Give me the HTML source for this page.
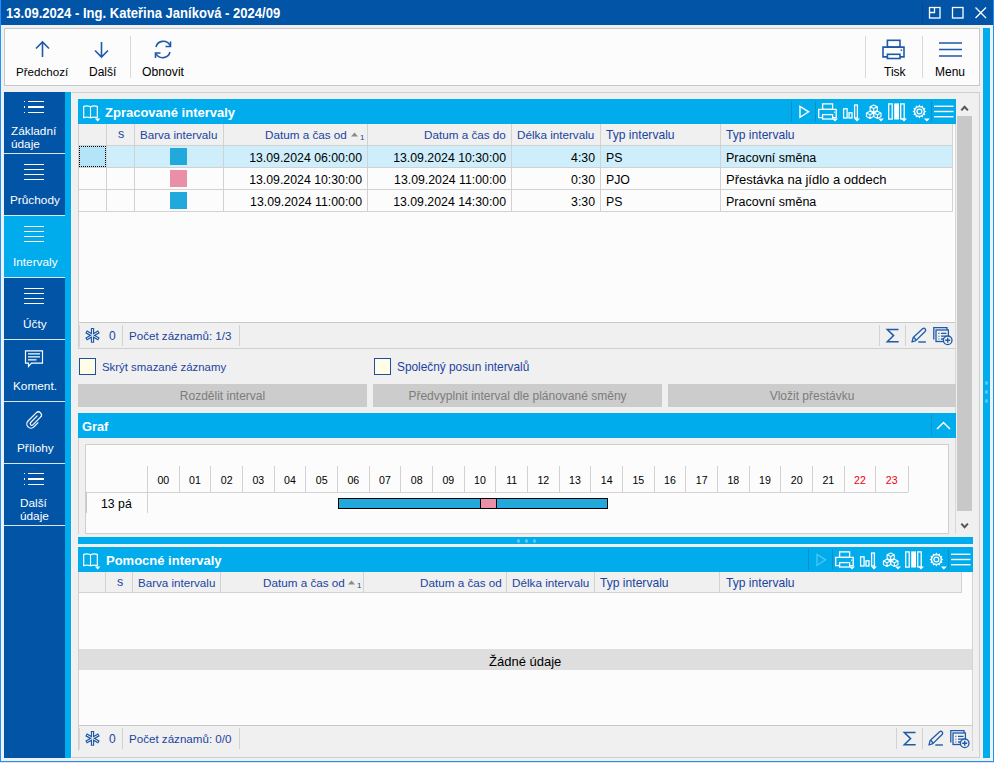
<!DOCTYPE html>
<html><head><meta charset="utf-8">
<style>
*{margin:0;padding:0;box-sizing:border-box}
html,body{width:994px;height:763px;overflow:hidden;background:#f0f0f0;font-family:"Liberation Sans",sans-serif;font-size:12px;color:#000}
.a{position:absolute}
.t{position:absolute;white-space:nowrap;line-height:14px}
.cy{background:#00acec}
.db{background:#0254a6}
.hl{position:absolute;height:1px;background:#d2d2d2}
.vl{position:absolute;width:1px;background:#d2d2d2}
.hd{color:#1a44a0}
.nav .t{color:#fff}
svg{position:absolute;overflow:visible}
</style></head><body>
<div class="a" style="left:0;top:0;width:1px;height:763px;background:#1e90ff"></div>
<div class="a" style="left:993px;top:0;width:1px;height:763px;background:#1e90ff"></div>
<div class="a" style="left:0;top:761px;width:994px;height:1px;background:#1e90ff"></div>
<div class="a" style="left:0;top:762px;width:994px;height:1px;background:#e6e2de"></div>
<div class="a db" style="left:1px;top:0;width:992px;height:25px"></div>
<div class="t" style="left:6px;top:6px;font-weight:bold;font-size:14px;color:#fff;transform-origin:0 0;transform:scaleX(0.932)">13.09.2024 - Ing. Kateřina Janíková - 2024/09</div>
<div class="a" style="left:922px;top:2px;width:1px;height:21px;background:#0a4590"></div>
<svg style="left:0;top:0" width="994" height="25">
 <g fill="none" stroke="#fff" stroke-width="1.3">
  <rect x="929.5" y="7.5" width="10.5" height="10.5"/>
  <path d="M929.5 12.5H934.5V7.5"/>
  <rect x="952.5" y="7.5" width="10.5" height="10.5"/>
  <path d="M975.5 7.5L986 18M986 7.5L975.5 18"/>
 </g>
</svg>
<div class="a" style="left:4px;top:28px;width:976px;height:58px;background:#fcfcfc;border:1px solid #c8c8c8"></div>
<div class="a" style="left:130px;top:36px;width:1px;height:42px;background:#d8d8d8"></div>
<div class="a" style="left:865px;top:36px;width:1px;height:42px;background:#d8d8d8"></div>
<div class="a" style="left:922px;top:36px;width:1px;height:42px;background:#d8d8d8"></div>
<svg style="left:0;top:0" width="994" height="90">
 <g fill="none" stroke="#1e5aa8" stroke-width="1.6">
  <path d="M42.5 42V57M36 48.5L42.5 42L49 48.5"/>
  <path d="M101.5 42V57M95 50.5L101.5 57L108 50.5"/>
  <path d="M170 45.5A7.5 7.5 0 0 0 156 47M156 53.5A7.5 7.5 0 0 0 170 52"/>
  <path d="M170.5 41.5V46.5H165.5M155.5 58V53H160.5"/>
  <rect x="887.4" y="40.3" width="12.6" height="6.8"/>
  <path d="M887.4 56.9H883V47.1H904V56.9H900"/>
  <rect x="887.4" y="54.3" width="12.6" height="4.2"/>
  <path d="M939 43H962M939 49.5H962M939 56H962"/>
 </g>
 <rect x="900.6" y="49.4" width="1.5" height="1.5" fill="#1e5aa8"/>
</svg>
<div class="t" style="left:16px;top:65px;font-size:11.6px">Předchozí</div>
<div class="t" style="left:89px;top:65px;font-size:12px">Další</div>
<div class="t" style="left:142px;top:65px;font-size:12.2px">Obnovit</div>
<div class="t" style="left:884px;top:65px;font-size:12px">Tisk</div>
<div class="t" style="left:935px;top:65px;font-size:12px">Menu</div>
<div class="a cy" style="left:983px;top:28px;width:7px;height:730px"></div>
<div class="a" style="left:985.1px;top:380.8px;width:3.4px;height:3.9px;border-radius:50%;background:#52c9fb"></div>
<div class="a" style="left:985.1px;top:389.8px;width:3.4px;height:3.9px;border-radius:50%;background:#52c9fb"></div>
<div class="a" style="left:985.1px;top:398.8px;width:3.4px;height:3.9px;border-radius:50%;background:#52c9fb"></div>
<div class="nav">
<div class="a db" style="left:4px;top:92px;width:61px;height:666px"></div>
<div class="a cy" style="left:4px;top:216px;width:67px;height:61px"></div>
<div class="a cy" style="left:65px;top:92px;width:6px;height:666px"></div>
<div class="a" style="left:4px;top:153px;width:61px;height:1px;background:#dbe6f2"></div>
<div class="a" style="left:4px;top:215px;width:61px;height:1px;background:#dbe6f2"></div>
<div class="a" style="left:4px;top:277px;width:61px;height:1px;background:#dbe6f2"></div>
<div class="a" style="left:4px;top:339px;width:61px;height:1px;background:#dbe6f2"></div>
<div class="a" style="left:4px;top:401px;width:61px;height:1px;background:#dbe6f2"></div>
<div class="a" style="left:4px;top:463px;width:61px;height:1px;background:#dbe6f2"></div>
<div class="a" style="left:4px;top:525px;width:61px;height:1px;background:#dbe6f2"></div>
<div class="a" style="left:24px;top:100.75px;width:1.4px;height:1.3px;background:#fff"></div>
<div class="a" style="left:28px;top:100.75px;width:16px;height:1.3px;background:#fff"></div>
<div class="a" style="left:24px;top:106.45px;width:1.4px;height:1.3px;background:#fff"></div>
<div class="a" style="left:28px;top:106.45px;width:16px;height:1.3px;background:#fff"></div>
<div class="a" style="left:24px;top:111.85px;width:1.4px;height:1.3px;background:#fff"></div>
<div class="a" style="left:28px;top:111.85px;width:16px;height:1.3px;background:#fff"></div>
<div class="t" style="left:11px;top:125px;font-size:11.8px;line-height:13.4px">Základní<br>údaje</div>
<div class="a" style="left:24px;top:163.95px;width:20px;height:1.3px;background:#fff"></div>
<div class="a" style="left:24px;top:168.95px;width:20px;height:1.3px;background:#fff"></div>
<div class="a" style="left:24px;top:173.95px;width:20px;height:1.3px;background:#fff"></div>
<div class="a" style="left:24px;top:178.95px;width:20px;height:1.3px;background:#fff"></div>
<div class="t" style="left:10px;top:193px;font-size:11.8px">Průchody</div>
<div class="a" style="left:24px;top:225.95px;width:20px;height:1.3px;background:#fff"></div>
<div class="a" style="left:24px;top:230.95px;width:20px;height:1.3px;background:#fff"></div>
<div class="a" style="left:24px;top:235.95px;width:20px;height:1.3px;background:#fff"></div>
<div class="a" style="left:24px;top:240.95px;width:20px;height:1.3px;background:#fff"></div>
<div class="t" style="left:13px;top:255px;font-size:11.8px">Intervaly</div>
<div class="a" style="left:24px;top:287.95px;width:20px;height:1.3px;background:#fff"></div>
<div class="a" style="left:24px;top:292.95px;width:20px;height:1.3px;background:#fff"></div>
<div class="a" style="left:24px;top:297.95px;width:20px;height:1.3px;background:#fff"></div>
<div class="a" style="left:24px;top:302.95px;width:20px;height:1.3px;background:#fff"></div>
<div class="t" style="left:23px;top:317px;font-size:11.8px">Účty</div>
<svg style="left:0;top:0" width="70" height="500"><g fill="none" stroke="#fff" stroke-width="1.2">
<path d="M25.5 350.8H42.5V363.2H31.5L28.5 366.5V363.2H25.5Z"/>
<path d="M28 353.8H40M28 356.9H40M28 359.9H36.5"/>
</g>
<g fill="none" stroke="#fff" stroke-width="1.3" transform="translate(35.07 419.8) rotate(45) scale(0.92)">
<path d="M-1.3 -5L-1.3 5.5A1.75 1.75 0 0 0 2.2 5.5L2.2 -6.2A3.35 3.35 0 0 0 -4.5 -6.2L-4.5 6.3A4.5 4.5 0 0 0 4.5 6.3L4.5 -0.5"/>
</g></svg>
<div class="t" style="left:13px;top:379px;font-size:11.8px">Koment.</div>
<div class="t" style="left:17px;top:441px;font-size:11.8px">Přílohy</div>
<div class="a" style="left:24px;top:472.75px;width:1.4px;height:1.3px;background:#fff"></div>
<div class="a" style="left:28px;top:472.75px;width:16px;height:1.3px;background:#fff"></div>
<div class="a" style="left:24px;top:478.45px;width:1.4px;height:1.3px;background:#fff"></div>
<div class="a" style="left:28px;top:478.45px;width:16px;height:1.3px;background:#fff"></div>
<div class="a" style="left:24px;top:483.85px;width:1.4px;height:1.3px;background:#fff"></div>
<div class="a" style="left:28px;top:483.85px;width:16px;height:1.3px;background:#fff"></div>
<div class="t" style="left:20px;top:497px;font-size:11.8px;line-height:13.4px">Další<br>údaje</div>
</div>
<div class="a" style="left:71px;top:92px;width:909px;height:666px;border:1px solid #cfcfcf;border-left-color:#f8f8f8"></div>
<div class="a cy" style="left:78px;top:99px;width:878px;height:25px"></div>
<div class="t" style="left:105px;top:105.5px;font-weight:bold;font-size:13px;color:#fff">Zpracované intervaly</div>
<div class="a" style="left:78px;top:124px;width:878px;height:225px;background:#fcfcfc"></div>
<div class="a" style="left:78px;top:124px;width:875px;height:22px;background:#f0f0f0"></div>
<div class="hl" style="left:78px;top:145px;width:875px"></div>
<div class="a" style="left:79px;top:146px;width:874px;height:21px;background:#cdeefa"></div>
<div class="a" style="left:79px;top:146px;width:27px;height:21px;background:#b3e4f8;border:1px dotted #000"></div>
<div class="hl" style="left:78px;top:167px;width:875px"></div>
<div class="hl" style="left:78px;top:189px;width:875px"></div>
<div class="hl" style="left:78px;top:211px;width:875px"></div>
<div class="vl" style="left:106px;top:124px;height:88px"></div>
<div class="vl" style="left:134px;top:124px;height:88px"></div>
<div class="vl" style="left:223px;top:124px;height:88px"></div>
<div class="vl" style="left:367px;top:124px;height:88px"></div>
<div class="vl" style="left:511px;top:124px;height:88px"></div>
<div class="vl" style="left:600px;top:124px;height:88px"></div>
<div class="vl" style="left:720px;top:124px;height:88px"></div>
<div class="vl" style="left:952px;top:124px;height:88px"></div>
<div class="t hd" style="left:118px;top:126.5px;font-size:12.5px">s</div>
<div class="t hd" style="left:140px;top:127.5px;font-size:11.6px">Barva intervalu</div>
<div class="t hd" style="left:265px;top:127.5px;font-size:11.7px">Datum a čas od</div>
<svg style="left:0;top:0" width="994" height="200"><path d="M351 136.5L354.5 132.5L358 136.5Z" fill="#8a8a8a"/></svg>
<div class="t hd" style="left:360px;top:130.5px;font-size:8px">1</div>
<div class="t hd" style="left:424px;top:127.5px;font-size:11.7px">Datum a čas do</div>
<div class="t hd" style="left:517px;top:127.5px;font-size:11.7px">Délka intervalu</div>
<div class="t hd" style="left:606px;top:127.5px;font-size:12.1px">Typ intervalu</div>
<div class="t hd" style="left:726px;top:127.5px;font-size:12.1px">Typ intervalu</div>
<div class="a" style="left:170px;top:148px;width:17px;height:17px;background:#22a9dc"></div>
<div class="t" style="right:632px;top:150.5px;font-size:12.3px">13.09.2024 06:00:00</div>
<div class="t" style="right:488px;top:150.5px;font-size:12.3px">13.09.2024 10:30:00</div>
<div class="t" style="right:399px;top:150.5px;font-size:12.3px">4:30</div>
<div class="t" style="left:606px;top:150.5px;font-size:12.3px">PS</div>
<div class="t" style="left:726px;top:150.5px;font-size:12.5px">Pracovní směna</div>
<div class="a" style="left:170px;top:170px;width:17px;height:17px;background:#e98fa8"></div>
<div class="t" style="right:632px;top:172.5px;font-size:12.3px">13.09.2024 10:30:00</div>
<div class="t" style="right:488px;top:172.5px;font-size:12.3px">13.09.2024 11:00:00</div>
<div class="t" style="right:399px;top:172.5px;font-size:12.3px">0:30</div>
<div class="t" style="left:606px;top:172.5px;font-size:12.3px">PJO</div>
<div class="t" style="left:726px;top:172.5px;font-size:13px">Přestávka na jídlo a oddech</div>
<div class="a" style="left:170px;top:192px;width:17px;height:17px;background:#22a9dc"></div>
<div class="t" style="right:632px;top:194.5px;font-size:12.3px">13.09.2024 11:00:00</div>
<div class="t" style="right:488px;top:194.5px;font-size:12.3px">13.09.2024 14:30:00</div>
<div class="t" style="right:399px;top:194.5px;font-size:12.3px">3:30</div>
<div class="t" style="left:606px;top:194.5px;font-size:12.3px">PS</div>
<div class="t" style="left:726px;top:194.5px;font-size:12.5px">Pracovní směna</div>
<div class="a" style="left:78px;top:322px;width:878px;height:27px;background:#f0f0f0;border-top:1px solid #c8c8c8;border-bottom:1px solid #d0d0d0"></div>
<div class="vl" style="left:79px;top:325px;height:22px;background:#d6d6d6"></div>
<div class="vl" style="left:122px;top:325px;height:21px"></div>
<div class="vl" style="left:239px;top:325px;height:21px"></div>
<div class="vl" style="left:879px;top:325px;height:21px"></div>
<div class="vl" style="left:905px;top:325px;height:21px"></div>
<div class="t hd" style="left:109px;top:329px;font-size:12px">0</div>
<div class="t hd" style="left:129px;top:329px;font-size:11.6px">Počet záznamů: 1/3</div>
<div class="vl" style="left:955px;top:124px;height:410px;background:#d8d8d8"></div>
<div class="a" style="left:957px;top:116px;width:15px;height:395px;background:#c8c8c8"></div>
<svg style="left:0;top:0" width="994" height="600"><g fill="none" stroke="#555" stroke-width="2"><path d="M961.3 110.4L964.6 106.8L967.9 110.4"/><path d="M961.3 523.6L964.6 527.2L967.9 523.6"/></g></svg>
<div class="a" style="left:79px;top:358px;width:17px;height:17px;border:1px solid #1f4e9c;background:#fffde6"></div>
<div class="t hd" style="left:102px;top:360px;font-size:11.4px">Skrýt smazané záznamy</div>
<div class="a" style="left:374px;top:358px;width:17px;height:17px;border:1px solid #1f4e9c;background:#fffde6"></div>
<div class="t hd" style="left:397px;top:360px;font-size:11.85px">Společný posun intervalů</div>
<div class="a" style="left:78px;top:384px;width:289px;height:23px;background:#cccccc;color:#7c7c7c;font-size:12px;line-height:24px;text-align:center;white-space:nowrap">Rozdělit interval</div>
<div class="a" style="left:373px;top:384px;width:289px;height:23px;background:#cccccc;color:#7c7c7c;font-size:12px;line-height:24px;text-align:center;white-space:nowrap">Předvyplnit interval dle plánované směny</div>
<div class="a" style="left:668px;top:384px;width:288px;height:23px;background:#cccccc;color:#7c7c7c;font-size:12px;line-height:24px;text-align:center;white-space:nowrap">Vložit přestávku</div>
<div class="a cy" style="left:78px;top:413px;width:878px;height:25px"></div>
<div class="t" style="left:82px;top:419.5px;font-weight:bold;font-size:12.8px;color:#fff">Graf</div>
<div class="a" style="left:931px;top:415px;width:1px;height:21px;background:#0894cc"></div>
<svg style="left:0;top:0" width="994" height="600"><path d="M937 429L943.5 422.5L950 429" fill="none" stroke="#fff" stroke-width="1.5"/></svg>
<div class="a" style="left:85px;top:444px;width:864px;height:90px;background:#fcfcfc;border:1px solid #cfcfcf"></div>
<div class="hl" style="left:86px;top:492px;width:822px"></div>
<div class="vl" style="left:86px;top:492px;height:21px;background:#c8c8c8"></div>
<div class="vl" style="left:147px;top:466px;height:47px"></div>
<div class="vl" style="left:179px;top:466px;height:26px"></div>
<div class="t" style="left:151.3px;width:24px;text-align:center;top:472.5px;font-size:10.6px;color:#000">00</div>
<div class="vl" style="left:210px;top:466px;height:26px"></div>
<div class="t" style="left:183.0px;width:24px;text-align:center;top:472.5px;font-size:10.6px;color:#000">01</div>
<div class="vl" style="left:242px;top:466px;height:26px"></div>
<div class="t" style="left:214.7px;width:24px;text-align:center;top:472.5px;font-size:10.6px;color:#000">02</div>
<div class="vl" style="left:274px;top:466px;height:26px"></div>
<div class="t" style="left:246.3px;width:24px;text-align:center;top:472.5px;font-size:10.6px;color:#000">03</div>
<div class="vl" style="left:305px;top:466px;height:26px"></div>
<div class="t" style="left:278.0px;width:24px;text-align:center;top:472.5px;font-size:10.6px;color:#000">04</div>
<div class="vl" style="left:337px;top:466px;height:26px"></div>
<div class="t" style="left:309.7px;width:24px;text-align:center;top:472.5px;font-size:10.6px;color:#000">05</div>
<div class="vl" style="left:369px;top:466px;height:26px"></div>
<div class="t" style="left:341.3px;width:24px;text-align:center;top:472.5px;font-size:10.6px;color:#000">06</div>
<div class="vl" style="left:400px;top:466px;height:26px"></div>
<div class="t" style="left:373.0px;width:24px;text-align:center;top:472.5px;font-size:10.6px;color:#000">07</div>
<div class="vl" style="left:432px;top:466px;height:26px"></div>
<div class="t" style="left:404.7px;width:24px;text-align:center;top:472.5px;font-size:10.6px;color:#000">08</div>
<div class="vl" style="left:464px;top:466px;height:26px"></div>
<div class="t" style="left:436.3px;width:24px;text-align:center;top:472.5px;font-size:10.6px;color:#000">09</div>
<div class="vl" style="left:495px;top:466px;height:26px"></div>
<div class="t" style="left:468.0px;width:24px;text-align:center;top:472.5px;font-size:10.6px;color:#000">10</div>
<div class="vl" style="left:527px;top:466px;height:26px"></div>
<div class="t" style="left:499.7px;width:24px;text-align:center;top:472.5px;font-size:10.6px;color:#000">11</div>
<div class="vl" style="left:559px;top:466px;height:26px"></div>
<div class="t" style="left:531.3px;width:24px;text-align:center;top:472.5px;font-size:10.6px;color:#000">12</div>
<div class="vl" style="left:590px;top:466px;height:26px"></div>
<div class="t" style="left:563.0px;width:24px;text-align:center;top:472.5px;font-size:10.6px;color:#000">13</div>
<div class="vl" style="left:622px;top:466px;height:26px"></div>
<div class="t" style="left:594.7px;width:24px;text-align:center;top:472.5px;font-size:10.6px;color:#000">14</div>
<div class="vl" style="left:654px;top:466px;height:26px"></div>
<div class="t" style="left:626.3px;width:24px;text-align:center;top:472.5px;font-size:10.6px;color:#000">15</div>
<div class="vl" style="left:685px;top:466px;height:26px"></div>
<div class="t" style="left:658.0px;width:24px;text-align:center;top:472.5px;font-size:10.6px;color:#000">16</div>
<div class="vl" style="left:717px;top:466px;height:26px"></div>
<div class="t" style="left:689.7px;width:24px;text-align:center;top:472.5px;font-size:10.6px;color:#000">17</div>
<div class="vl" style="left:749px;top:466px;height:26px"></div>
<div class="t" style="left:721.3px;width:24px;text-align:center;top:472.5px;font-size:10.6px;color:#000">18</div>
<div class="vl" style="left:780px;top:466px;height:26px"></div>
<div class="t" style="left:753.0px;width:24px;text-align:center;top:472.5px;font-size:10.6px;color:#000">19</div>
<div class="vl" style="left:812px;top:466px;height:26px"></div>
<div class="t" style="left:784.7px;width:24px;text-align:center;top:472.5px;font-size:10.6px;color:#000">20</div>
<div class="vl" style="left:844px;top:466px;height:26px"></div>
<div class="t" style="left:816.3px;width:24px;text-align:center;top:472.5px;font-size:10.6px;color:#000">21</div>
<div class="vl" style="left:875px;top:466px;height:26px"></div>
<div class="t" style="left:848.0px;width:24px;text-align:center;top:472.5px;font-size:10.6px;color:#f00010">22</div>
<div class="vl" style="left:908px;top:466px;height:26px"></div>
<div class="t" style="left:879.7px;width:24px;text-align:center;top:472.5px;font-size:10.6px;color:#f00010">23</div>
<div class="t" style="left:101px;top:496.5px;font-size:12.3px">13 pá</div>
<div class="a" style="left:338px;top:498px;width:270px;height:11px;background:#22a9dc;border:1px solid #000"></div>
<div class="a" style="left:480px;top:498px;width:17px;height:11px;background:#e98fa8;border:1px solid #000"></div>
<div class="a cy" style="left:78px;top:537px;width:895px;height:7px"></div>
<div class="a" style="left:517.2px;top:539px;width:3.2px;height:3.8px;border-radius:50%;background:#52c9fb"></div>
<div class="a" style="left:525.2px;top:539px;width:3.2px;height:3.8px;border-radius:50%;background:#52c9fb"></div>
<div class="a" style="left:533.2px;top:539px;width:3.2px;height:3.8px;border-radius:50%;background:#52c9fb"></div>
<div class="a cy" style="left:78px;top:547px;width:895px;height:25px"></div>
<div class="t" style="left:106px;top:553.5px;font-weight:bold;font-size:13px;color:#fff">Pomocné intervaly</div>
<div class="a" style="left:79px;top:572px;width:893px;height:153px;background:#fcfcfc"></div>
<div class="a" style="left:79px;top:572px;width:883px;height:21px;background:#f0f0f0"></div>
<div class="hl" style="left:79px;top:592px;width:883px"></div>
<div class="vl" style="left:105px;top:572px;height:20px"></div>
<div class="vl" style="left:132px;top:572px;height:20px"></div>
<div class="vl" style="left:220px;top:572px;height:20px"></div>
<div class="vl" style="left:363px;top:572px;height:20px"></div>
<div class="vl" style="left:506px;top:572px;height:20px"></div>
<div class="vl" style="left:594px;top:572px;height:20px"></div>
<div class="vl" style="left:719px;top:572px;height:20px"></div>
<div class="vl" style="left:961px;top:572px;height:20px"></div>
<div class="vl" style="left:972px;top:572px;height:179px;background:#d4d4d4"></div>
<div class="t hd" style="left:117px;top:575px;font-size:12.5px">s</div>
<div class="t hd" style="left:138px;top:576px;font-size:11.6px">Barva intervalu</div>
<div class="t hd" style="left:263px;top:576px;font-size:11.7px">Datum a čas od</div>
<svg style="left:0;top:0" width="994" height="600"><path d="M348 584.5L351.5 580.5L355 584.5Z" fill="#8a8a8a"/></svg>
<div class="t hd" style="left:357px;top:579px;font-size:8px">1</div>
<div class="t hd" style="left:420px;top:576px;font-size:11.7px">Datum a čas od</div>
<div class="t hd" style="left:512px;top:576px;font-size:11.7px">Délka intervalu</div>
<div class="t hd" style="left:600px;top:576px;font-size:12.1px">Typ intervalu</div>
<div class="t hd" style="left:726px;top:576px;font-size:12.1px">Typ intervalu</div>
<div class="a" style="left:79px;top:649px;width:893px;height:21px;background:#dedede"></div>
<div class="t" style="left:489px;top:655px;font-size:13px">Žádné údaje</div>
<div class="a" style="left:78px;top:725px;width:895px;height:26px;background:#f0f0f0;border-top:1px solid #c8c8c8"></div>
<div class="vl" style="left:79px;top:728px;height:21px;background:#d6d6d6"></div>
<div class="vl" style="left:972px;top:726px;height:25px;background:#d4d4d4"></div>
<div class="vl" style="left:122px;top:728px;height:21px"></div>
<div class="vl" style="left:239px;top:728px;height:21px"></div>
<div class="vl" style="left:896px;top:728px;height:21px"></div>
<div class="vl" style="left:922px;top:728px;height:21px"></div>
<div class="t hd" style="left:109px;top:732px;font-size:12px">0</div>
<div class="t hd" style="left:129px;top:732px;font-size:11.6px">Počet záznamů: 0/0</div>
<div class="vl" style="left:78px;top:124px;height:224px;background:#cfcfcf"></div>
<div class="vl" style="left:78px;top:438px;height:96px;background:#cfcfcf"></div>
<div class="vl" style="left:78px;top:572px;height:179px;background:#cfcfcf"></div>
<svg style="left:0px;top:0px" width="994" height="130">
<g fill="#0a90c6"><rect x="791" y="101" width="1" height="21"/><rect x="815" y="101" width="1" height="21"/><rect x="931" y="101" width="1" height="21"/></g>
<path d="M800 106.3L808.6 111.8L800 117.3Z" fill="none" stroke="#fff" stroke-width="1.4" stroke-linejoin="miter"/>
<g fill="none" stroke="#fff" stroke-width="1.3">
<rect x="822.6" y="103.9" width="10" height="5.5"/>
<path d="M822.6 117.6H818.7V109.4H836.2V117.6H832.6"/>
<rect x="822.6" y="114.6" width="10" height="4.4"/>
<rect x="843.6" y="108.8" width="3.5" height="9.2"/><rect x="849" y="112.8" width="3" height="5.2"/><rect x="854.6" y="105" width="2.8" height="13"/>
<rect x="888.7" y="103.9" width="3.5" height="15.2"/><rect x="900.7" y="103.9" width="3.5" height="15"/>
</g>
<rect x="834" y="111.6" width="1.2" height="1.2" fill="#fff"/>
<rect x="894.2" y="103.4" width="4.8" height="16.1" fill="#fff"/>
<path d="M832 118.6H838L835 121.6Z" fill="#fff"/>
<path d="M854 118.6H860L857 121.6Z" fill="#fff"/>
<path d="M878 118.6H884L881 121.6Z" fill="#fff"/>
<path d="M901 118.6H907L904 121.6Z" fill="#fff"/>
<path d="M923.8 118.6H929.8L926.8 121.6Z" fill="#fff"/>
<g fill="none" stroke="#fff" stroke-width="1.1" stroke-linejoin="round">
<path d="M873.7 105.0L877.3000000000001 106.8V110.39999999999999L873.7 112.19999999999999L870.1 110.39999999999999V106.8ZM870.1 106.8L873.7 108.6L877.3000000000001 106.8M873.7 108.6V112.19999999999999"/>
<path d="M870 111.2L873.6 113.0V116.6L870 118.39999999999999L866.4 116.6V113.0ZM866.4 113.0L870 114.8L873.6 113.0M870 114.8V118.39999999999999"/>
<path d="M877.4 111.2L881.0 113.0V116.6L877.4 118.39999999999999L873.8 116.6V113.0ZM873.8 113.0L877.4 114.8L881.0 113.0M877.4 114.8V118.39999999999999"/>
</g>
<path d="M926.30 111.50L924.52 112.87L925.38 114.95L923.15 115.25L922.85 117.48L920.77 116.62L919.40 118.40L918.03 116.62L915.95 117.48L915.65 115.25L913.42 114.95L914.28 112.87L912.50 111.50L914.28 110.13L913.42 108.05L915.65 107.75L915.95 105.52L918.03 106.38L919.40 104.60L920.77 106.38L922.85 105.52L923.15 107.75L925.38 108.05L924.52 110.13Z" fill="#fff"/>
<circle cx="919.4" cy="111.5" r="4.2" fill="#00acec"/>
<circle cx="919.4" cy="111.5" r="2.4" fill="none" stroke="#fff" stroke-width="1.3"/>
<g fill="#fff"><rect x="934" y="105.6" width="19.5" height="1.4"/><rect x="934" y="110.8" width="19.5" height="1.4"/><rect x="934" y="116" width="19.5" height="1.4"/></g>
<g transform="translate(0 0)" fill="none" stroke="#fff" stroke-width="1.15">
<path d="M90.5 106.8Q87 105.2 83.7 106.4V117.6Q87 116.6 90.5 117.8Q94 116.6 97.3 117.6V106.4Q94 105.2 90.5 106.8V117.8"/>
</g>
<path transform="translate(0 0)" d="M95 118.6H100.4L97.7 121.6Z" fill="#fff"/>
</svg>
<svg style="left:17px;top:448px" width="994" height="130">
<g fill="#0a90c6"><rect x="791" y="101" width="1" height="21"/><rect x="815" y="101" width="1" height="21"/><rect x="931" y="101" width="1" height="21"/></g>
<path d="M800 106.3L808.6 111.8L800 117.3Z" fill="none" stroke="#4cc4ef" stroke-width="1.4" stroke-linejoin="miter"/>
<g fill="none" stroke="#fff" stroke-width="1.3">
<rect x="822.6" y="103.9" width="10" height="5.5"/>
<path d="M822.6 117.6H818.7V109.4H836.2V117.6H832.6"/>
<rect x="822.6" y="114.6" width="10" height="4.4"/>
<rect x="843.6" y="108.8" width="3.5" height="9.2"/><rect x="849" y="112.8" width="3" height="5.2"/><rect x="854.6" y="105" width="2.8" height="13"/>
<rect x="888.7" y="103.9" width="3.5" height="15.2"/><rect x="900.7" y="103.9" width="3.5" height="15"/>
</g>
<rect x="834" y="111.6" width="1.2" height="1.2" fill="#fff"/>
<rect x="894.2" y="103.4" width="4.8" height="16.1" fill="#fff"/>
<path d="M832 118.6H838L835 121.6Z" fill="#fff"/>
<path d="M854 118.6H860L857 121.6Z" fill="#fff"/>
<path d="M878 118.6H884L881 121.6Z" fill="#fff"/>
<path d="M901 118.6H907L904 121.6Z" fill="#fff"/>
<path d="M923.8 118.6H929.8L926.8 121.6Z" fill="#fff"/>
<g fill="none" stroke="#fff" stroke-width="1.1" stroke-linejoin="round">
<path d="M873.7 105.0L877.3000000000001 106.8V110.39999999999999L873.7 112.19999999999999L870.1 110.39999999999999V106.8ZM870.1 106.8L873.7 108.6L877.3000000000001 106.8M873.7 108.6V112.19999999999999"/>
<path d="M870 111.2L873.6 113.0V116.6L870 118.39999999999999L866.4 116.6V113.0ZM866.4 113.0L870 114.8L873.6 113.0M870 114.8V118.39999999999999"/>
<path d="M877.4 111.2L881.0 113.0V116.6L877.4 118.39999999999999L873.8 116.6V113.0ZM873.8 113.0L877.4 114.8L881.0 113.0M877.4 114.8V118.39999999999999"/>
</g>
<path d="M926.30 111.50L924.52 112.87L925.38 114.95L923.15 115.25L922.85 117.48L920.77 116.62L919.40 118.40L918.03 116.62L915.95 117.48L915.65 115.25L913.42 114.95L914.28 112.87L912.50 111.50L914.28 110.13L913.42 108.05L915.65 107.75L915.95 105.52L918.03 106.38L919.40 104.60L920.77 106.38L922.85 105.52L923.15 107.75L925.38 108.05L924.52 110.13Z" fill="#fff"/>
<circle cx="919.4" cy="111.5" r="4.2" fill="#00acec"/>
<circle cx="919.4" cy="111.5" r="2.4" fill="none" stroke="#fff" stroke-width="1.3"/>
<g fill="#fff"><rect x="934" y="105.6" width="19.5" height="1.4"/><rect x="934" y="110.8" width="19.5" height="1.4"/><rect x="934" y="116" width="19.5" height="1.4"/></g>
<g transform="translate(-17 0)" fill="none" stroke="#fff" stroke-width="1.15">
<path d="M90.5 106.8Q87 105.2 83.7 106.4V117.6Q87 116.6 90.5 117.8Q94 116.6 97.3 117.6V106.4Q94 105.2 90.5 106.8V117.8"/>
</g>
<path transform="translate(-17 0)" d="M95 118.6H100.4L97.7 121.6Z" fill="#fff"/>
</svg>
<svg style="left:0px;top:0px" width="994" height="360">
<g transform="translate(0 0)">
<path d="M92.5 328.00V342.80M86.09 331.70L98.91 339.10M86.09 339.10L98.91 331.70" stroke="#1f5aa8" stroke-width="3.3" stroke-linecap="butt" fill="none"/>
<path d="M92.5 328.00V342.80M86.09 331.70L98.91 339.10M86.09 339.10L98.91 331.70" stroke="#f0f0f0" stroke-width="1.1" stroke-linecap="butt" fill="none" transform="translate(92.5 335.4) scale(0.86) translate(-92.5 -335.4)"/>
</g>
<path d="M898.5 329.5H887.3L893.6 335.6L887.3 341.8H898.7" fill="none" stroke="#1f5aa8" stroke-width="1.5" stroke-linejoin="miter"/>
<g fill="none" stroke="#1f5aa8" stroke-width="1.3" stroke-linejoin="round">
<path d="M912 342L913.2 337.4L922.6 328.8Q924 327.7 925.2 328.9Q926.3 330.2 925.1 331.5L915.8 340.6Z"/>
<path d="M913.6 337.2L916 339.7"/>
</g>
<rect x="918.3" y="341.3" width="7.6" height="1.4" fill="#1f5aa8"/>
<g fill="none" stroke="#1f5aa8" stroke-width="1.3">
<path d="M933.8 339.5V327.6H947V330"/>
<rect x="936" y="330" width="12.4" height="11.5" fill="#f0f0f0"/>
<path d="M941 333.4H946.5M941 336.2H946.5M941 339H944"/>
</g>
<path d="M938.4 333.4H939.4M938.4 336.2H939.4M938.4 339H939.4" stroke="#1f5aa8" stroke-width="1.1"/>
<circle cx="947.7" cy="340.3" r="4.3" fill="#f0f0f0" stroke="#1f5aa8" stroke-width="1.3"/>
<path d="M945.2 340.3H950.2M947.7 337.8V342.8" stroke="#1f5aa8" stroke-width="1.4"/>
</svg>
<svg style="left:17px;top:403px" width="994" height="360">
<g transform="translate(-17 0)">
<path d="M92.5 328.00V342.80M86.09 331.70L98.91 339.10M86.09 339.10L98.91 331.70" stroke="#1f5aa8" stroke-width="3.3" stroke-linecap="butt" fill="none"/>
<path d="M92.5 328.00V342.80M86.09 331.70L98.91 339.10M86.09 339.10L98.91 331.70" stroke="#f0f0f0" stroke-width="1.1" stroke-linecap="butt" fill="none" transform="translate(92.5 335.4) scale(0.86) translate(-92.5 -335.4)"/>
</g>
<path d="M898.5 329.5H887.3L893.6 335.6L887.3 341.8H898.7" fill="none" stroke="#1f5aa8" stroke-width="1.5" stroke-linejoin="miter"/>
<g fill="none" stroke="#1f5aa8" stroke-width="1.3" stroke-linejoin="round">
<path d="M912 342L913.2 337.4L922.6 328.8Q924 327.7 925.2 328.9Q926.3 330.2 925.1 331.5L915.8 340.6Z"/>
<path d="M913.6 337.2L916 339.7"/>
</g>
<rect x="918.3" y="341.3" width="7.6" height="1.4" fill="#1f5aa8"/>
<g fill="none" stroke="#1f5aa8" stroke-width="1.3">
<path d="M933.8 339.5V327.6H947V330"/>
<rect x="936" y="330" width="12.4" height="11.5" fill="#f0f0f0"/>
<path d="M941 333.4H946.5M941 336.2H946.5M941 339H944"/>
</g>
<path d="M938.4 333.4H939.4M938.4 336.2H939.4M938.4 339H939.4" stroke="#1f5aa8" stroke-width="1.1"/>
<circle cx="947.7" cy="340.3" r="4.3" fill="#f0f0f0" stroke="#1f5aa8" stroke-width="1.3"/>
<path d="M945.2 340.3H950.2M947.7 337.8V342.8" stroke="#1f5aa8" stroke-width="1.4"/>
</svg>
</body></html>
